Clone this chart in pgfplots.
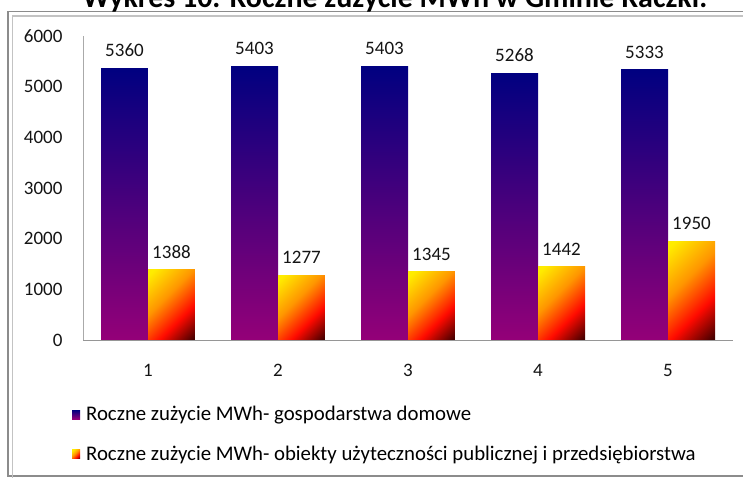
\documentclass[border=0pt]{standalone}
\usepackage{pgfplots}
\pgfplotsset{compat=1.18}
\usepackage{fontspec}
\setmainfont{Carlito}
\definecolor{navytop}{RGB}{0,0,128}
\definecolor{purplebot}{RGB}{148,0,120}
\definecolor{fireY}{RGB}{255,236,0}
\definecolor{fireO}{RGB}{255,150,0}
\definecolor{fireR}{RGB}{255,10,0}
\definecolor{fireD}{RGB}{70,0,0}
\pgfdeclarehorizontalshading{firediag}{100bp}{color(0bp)=(fireY); color(18bp)=(fireY); color(42bp)=(fireO); color(64bp)=(fireR); color(84bp)=(fireD); color(100bp)=(fireD)}
\pgfplotsset{
  bluebar/.style={draw=none, top color=navytop, bottom color=purplebot, bar shift=-0.18075},
  firebar/.style={draw=none, shade, shading=firediag, shading angle=-45, bar shift=0.18075},
}
\begin{document}
\begin{tikzpicture}[x=1pt,y=1pt]
% frame
\draw[color={rgb,255:red,140;green,140;blue,140}, line width=1.6pt] (8,2) rectangle (770,466.5);
\draw[color={rgb,255:red,195;green,195;blue,195}, line width=1.6pt] (12.5,-5) rectangle (770,462);
% title (clipped at the top)
\node[anchor=base, font=\fontsize{30}{33}\selectfont\bfseries, inner sep=0pt] at (395,470) {Wykres 10. Roczne zużycie MWh w Gminie Raczki.};
\begin{axis}[
  at={(83pt,138pt)}, anchor=south west,
  scale only axis, width=650pt, height=304pt,
  xmin=0.5, xmax=5.5, ymin=0, ymax=6000,
  ybar, bar width=0.3615,
  axis x line*=bottom, axis y line*=left,
  x axis line style={color={rgb,255:red,150;green,150;blue,150}, line width=0.9pt, -},
  y axis line style={color={rgb,255:red,170;green,170;blue,170}, line width=0.6pt, -},
  xtick={1,2,3,4,5}, ytick={0,1000,...,6000},
  major tick length=0pt,
  /pgf/number format/assume math mode=true,
  /pgf/number format/1000 sep={},
  tick label style={font=\fontsize{19}{22}\selectfont, color={rgb,255:red,20;green,20;blue,20}},
  yticklabel style={xshift=-17pt},
  xticklabel style={yshift=-21pt},
  nodes near coords,
  nodes near coords style={font=\fontsize{19}{22}\selectfont, color={rgb,255:red,20;green,20;blue,20}, anchor=south, yshift=8pt},
  legend style={at={(axis description cs:-0.017,-0.215)}, anchor=north west, draw=none, fill=none,
     font=\fontsize{20.8}{24}\selectfont, row sep=22pt, inner sep=0pt,
     nodes={inner sep=1pt}},
  legend cell align=left,
  clip=false,
]
\addplot[bluebar,
  legend image code/.code={\fill[top color=navytop, bottom color=purplebot] (0pt,-4.5pt) rectangle (8pt,4.5pt);}]
  coordinates {(1,5360)};
\addlegendentry{\hspace{5pt}Roczne zużycie MWh- gospodarstwa domowe}
\addplot[firebar,
  legend image code/.code={\shade[shading=firediag, shading angle=-45] (0pt,-4.5pt) rectangle (8pt,4.5pt);}]
  coordinates {(1,1388)};
\addlegendentry{\hspace{5pt}Roczne zużycie MWh- obiekty użyteczności publicznej i przedsiębiorstwa}
\addplot[bluebar, forget plot] coordinates {(2,5403)};
\addplot[bluebar, forget plot] coordinates {(3,5403)};
\addplot[bluebar, forget plot] coordinates {(4,5268)};
\addplot[bluebar, forget plot] coordinates {(5,5333)};
\addplot[firebar, forget plot] coordinates {(2,1277)};
\addplot[firebar, forget plot] coordinates {(3,1345)};
\addplot[firebar, forget plot] coordinates {(4,1442)};
\addplot[firebar, forget plot] coordinates {(5,1950)};
\end{axis}
\pgfresetboundingbox
\useasboundingbox (0,0) rectangle (743,478);
\end{tikzpicture}
\end{document}
